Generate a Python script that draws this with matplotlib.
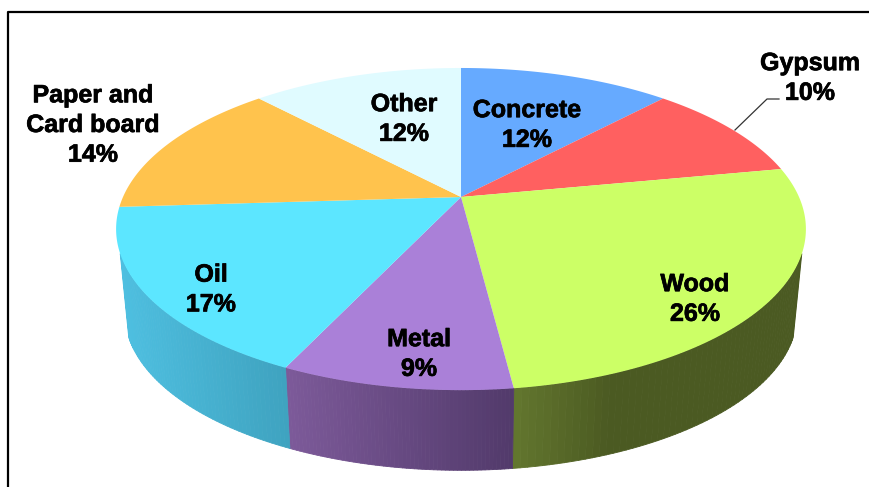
import numpy as np
import matplotlib
matplotlib.use("Agg")
import matplotlib.pyplot as plt
import matplotlib.patheffects as pe
from matplotlib.collections import PolyCollection
from matplotlib.colors import to_rgb

plt.rcParams['font.family'] = ['Liberation Sans', 'DejaVu Sans']

categories = ['Concrete', 'Gypsum', 'Wood', 'Metal', 'Oil', 'Paper and\nCard board', 'Other']
values = [12, 10, 26, 9, 17, 14, 12]
top_colors = ['#66AAFF', '#FF6060', '#CCFF66', '#AA80D8', '#5CE6FF', '#FFC34D', '#E0FBFF']
# wall colour at start/end of each slice (going clockwise), None = not visible
wall_right = [None, None, '#4B5A22', '#523A6B', '#3FA3C0', None, None]
wall_left = [None, None, '#64782F', '#7D5A9A', '#4EBFE0', None, None]
label_pos = [(527, 125), (810, 78), (695, 299), (419, 354), (211, 289.5), (93, 125), (404, 119)]

# perspective of the disc, in pixels
cx, cy, a, b, k = 461, 197, 338, 154.7, 0.199
wall_cy, wall_scale = 282, 0.975


def project(theta, centre_y=cy, scale=1.0):
    u = np.sin(theta)
    v = np.cos(theta)
    f = scale / (1 + k * v)
    return np.column_stack([cx + a * u * f, centre_y - b * v * f])


fig = plt.figure(figsize=(8.7, 4.87), dpi=100)
ax = fig.add_axes([0, 0, 1, 1])
ax.set_xlim(0, 870)
ax.set_ylim(487, 0)
ax.axis('off')

# frame, runs off the right and bottom of the picture
ax.plot([8.5, 8.5, 870], [487, 11.5, 11.5], color='black', lw=1.6, zorder=1)

edges = np.cumsum([0] + values) / sum(values) * 2 * np.pi

# walls first, then the top of the disc over them
for i, name in enumerate(categories):
    if wall_right[i] is None:
        continue
    # the wall only shows below the widest part of the disc
    start = max(edges[i], np.radians(110))
    end = min(edges[i + 1], np.radians(250))
    th = np.linspace(start, end, 60)
    upper = project(th)
    lower = project(th, wall_cy, wall_scale)
    quads = []
    cols = []
    c1 = np.array(to_rgb(wall_right[i]))
    c2 = np.array(to_rgb(wall_left[i]))
    xs = upper[:, 0]
    for j in range(len(th) - 1):
        quads.append([upper[j], upper[j + 1], lower[j + 1], lower[j]])
        t = (xs[j] - xs.min()) / (xs.max() - xs.min())
        if name == 'Wood':
            # goes flat dark after the first third
            t = min(t / 0.35, 1)
        cols.append(c2 + (c1 - c2) * t)
    ax.add_collection(PolyCollection(quads, facecolors=cols, edgecolors=cols, linewidths=0.6, zorder=2))

for i in range(len(values)):
    th = np.linspace(edges[i], edges[i + 1], 120)
    pts = np.vstack([[cx, cy], project(th)])
    ax.fill(pts[:, 0], pts[:, 1], color=top_colors[i], lw=0, zorder=3)

# leader line of Gypsum
ax.plot([735, 767, 779], [130, 99, 99], color='#333333', lw=0.9, zorder=4)

for i, name in enumerate(categories):
    x, y = label_pos[i]
    ax.text(x, y, f"{name}\n{values[i]}%", ha='center', va='center', fontsize=18,
            fontweight='bold', color='black', linespacing=1.3, zorder=5,
            path_effects=[pe.withStroke(linewidth=0.5, foreground='black')])

fig.savefig('out.png', dpi=100)
